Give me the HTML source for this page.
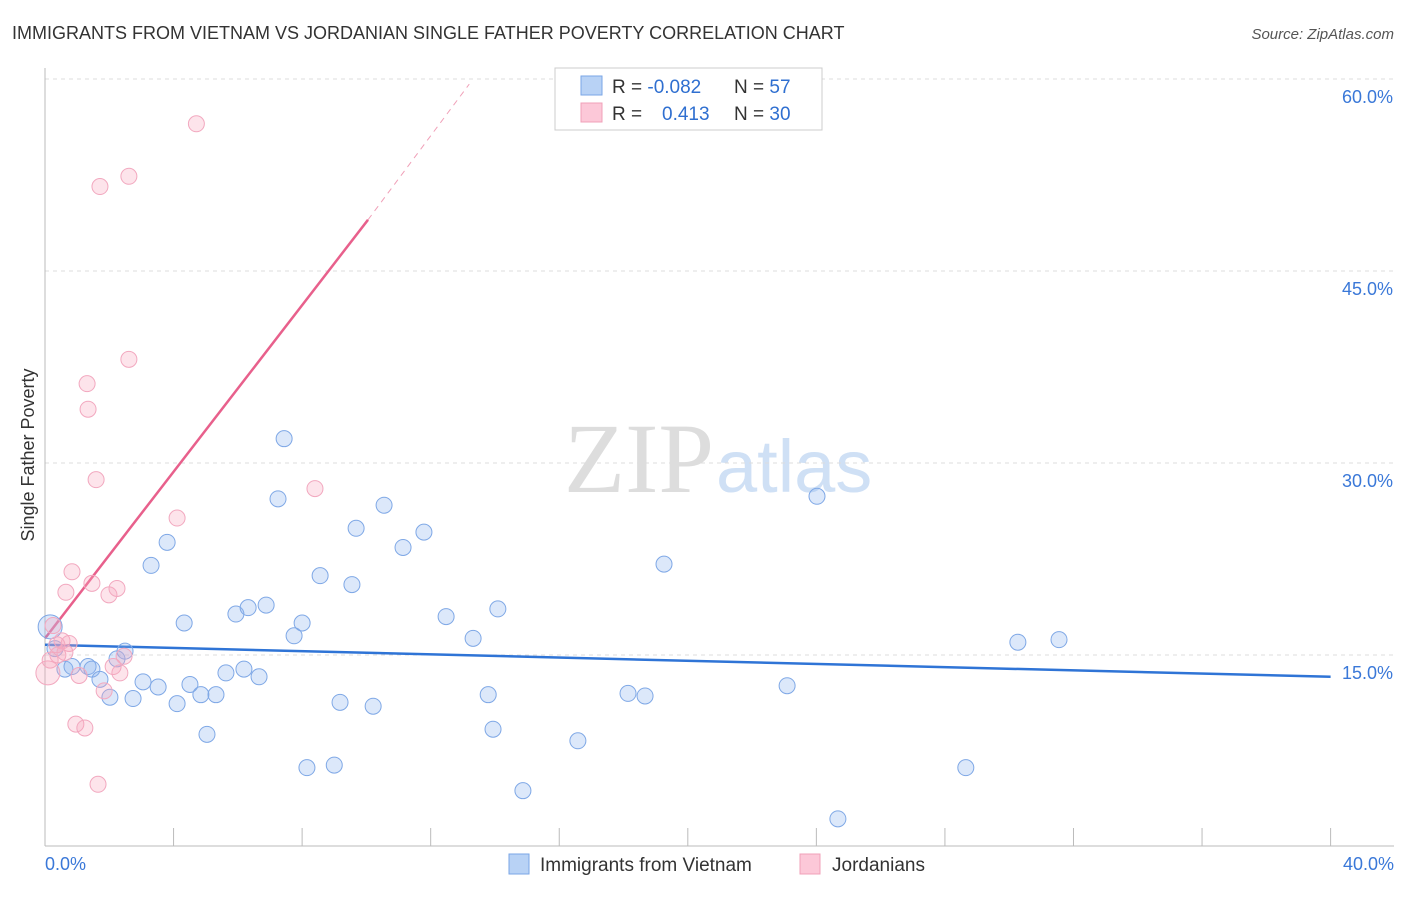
<!DOCTYPE html>
<html><head><meta charset="utf-8"><style>
body{margin:0;background:#fff;font-family:"Liberation Sans",sans-serif}
svg text{font-family:"Liberation Sans",sans-serif}
</style></head><body>
<svg id="c" width="1406" height="892">
<text x="12" y="39" font-size="18" fill="#333">IMMIGRANTS FROM VIETNAM VS JORDANIAN SINGLE FATHER POVERTY CORRELATION CHART</text>
<text x="1394" y="39" font-size="15" fill="#555" font-style="italic" text-anchor="end">Source: ZipAtlas.com</text>
<text x="714" y="492" font-size="100" fill="#ddd" style="font-family:'Liberation Serif',serif" text-anchor="end">ZIP</text>
<text x="716" y="492" font-size="74" fill="#cfe0f5">atlas</text>
<g id="grid"></g><g id="axes"></g><g id="trends"></g><g id="pts"></g>
<text transform="translate(34,455) rotate(-90)" font-size="18" fill="#333" text-anchor="middle">Single Father Poverty</text>
<g>
<rect x="555" y="68" width="267" height="62" fill="#fff" stroke="#ccc"/>
<rect x="581" y="76" width="21" height="19" fill="#b8d2f5" stroke="#7aa6e6"/>
<rect x="581" y="103" width="21" height="19" fill="#fcc8d8" stroke="#f0a0b8"/>
<text x="612" y="93" font-size="19" fill="#333">R = <tspan fill="#2f6fd0">-0.082</tspan></text>
<text x="734" y="93" font-size="19" fill="#333">N = <tspan fill="#2f6fd0">57</tspan></text>
<text x="612" y="120" font-size="19" fill="#333">R = </text>
<text x="662" y="120" font-size="19" fill="#2f6fd0">0.413</text>
<text x="734" y="120" font-size="19" fill="#333">N = <tspan fill="#2f6fd0">30</tspan></text>
</g>
<g>
<rect x="509" y="854" width="20" height="20" fill="#b8d2f5" stroke="#7aa6e6"/>
<text x="540" y="871" font-size="19" fill="#333">Immigrants from Vietnam</text>
<rect x="800" y="854" width="20" height="20" fill="#fcc8d8" stroke="#f0a0b8"/>
<text x="832" y="871" font-size="19" fill="#333">Jordanians</text>
</g>
</svg>
<script>
const yTicks=[15,30,45,60];
const xTickLabels=["0.0%","40.0%"];
const blueX=[0.16,0.31,0.62,0.84,1.34,1.46,1.71,2.02,2.24,2.49,2.74,3.05,3.30,3.52,3.80,4.11,4.33,4.51,4.85,5.04,5.32,5.63,5.94,6.19,6.32,6.66,6.88,7.25,7.44,7.75,8.0,8.15,8.56,9.0,9.18,9.55,9.68,10.21,10.55,11.14,11.79,12.48,13.32,13.79,13.94,14.09,14.87,16.58,18.14,18.67,19.26,23.09,24.02,24.67,28.65,30.27,31.55];
const blueY=[17.2,15.5,13.9,14.1,14.1,13.9,13.1,11.7,14.7,15.3,11.6,12.9,22.0,12.5,23.8,11.2,17.5,12.7,11.9,8.8,11.9,13.6,18.2,13.9,18.7,13.3,18.9,27.2,31.9,16.5,17.5,6.2,21.2,6.4,11.3,20.5,24.9,11.0,26.7,23.4,24.6,18.0,16.3,11.9,9.2,18.6,4.4,8.3,12.0,11.8,22.1,12.6,27.4,2.2,6.2,16.0,16.2];
const pinkX=[0.09,0.25,0.40,0.53,0.65,0.75,0.84,1.06,1.31,1.34,1.46,1.59,1.65,1.71,1.84,1.99,2.12,2.24,2.33,2.46,2.61,2.61,4.11,4.71,8.4,0.96,1.24,0.37,0.16,0.62];
const pinkY=[13.6,17.3,15.0,16.1,19.9,15.9,21.5,13.4,36.2,34.2,20.6,28.7,4.9,51.6,12.2,19.7,14.1,20.2,13.6,14.9,38.1,52.4,25.7,56.5,28.0,9.6,9.3,15.8,14.6,15.2];
const blueTrend=[[0,15.8],[40,13.3]];
const pinkTrendSolid=[[0,16.3],[10.05,49.0]];
const pinkTrendDash=[[10.05,49.0],[13.2,59.6]];
const X=v=>45+v*32.14, Y=v=>847-v*12.8;
const NS="http://www.w3.org/2000/svg";
function mk(p,t,a){const e=document.createElementNS(NS,t);for(const k in a)e.setAttribute(k,a[k]);document.getElementById(p).appendChild(e);return e;}
yTicks.forEach(t=>{
 const l=mk('grid','line',{x1:45,x2:1394,y1:Y(t),y2:Y(t),stroke:'#ddd','stroke-dasharray':'4,4'});
 
 
 const tx=mk('grid','text',{x:1393,y:Y(t)+24,'font-size':18,fill:'#3a78d8','text-anchor':'end'});tx.textContent=t.toFixed(1)+'%';
 
 
});
mk('axes','line',{x1:45,x2:45,y1:68,y2:846,stroke:'#bbb'});
mk('axes','line',{x1:45,x2:1394,y1:846,y2:846,stroke:'#bbb'});
for(let i=1;i<=10;i++){const t=mk('axes','line',{x1:X(i*4),x2:X(i*4),y1:828,y2:846,stroke:'#bbb'});
 
 }
[[0,'start',45],[1,'end',1394]].forEach(([i,a,x])=>{const t=mk('axes','text',{x:x,y:870,'font-size':18,fill:'#3a78d8','text-anchor':a});t.textContent=xTickLabels[i];
 
 });
const bt=mk('trends','line',{x1:X(blueTrend[0][0]),y1:Y(blueTrend[0][1]),x2:X(blueTrend[1][0]),y2:Y(blueTrend[1][1]),stroke:'#2f74d6','stroke-width':2.5});


const pt=mk('trends','line',{x1:X(pinkTrendSolid[0][0]),y1:Y(pinkTrendSolid[0][1]),x2:X(pinkTrendSolid[1][0]),y2:Y(pinkTrendSolid[1][1]),stroke:'#e8608c','stroke-width':2.5});


const pd=mk('trends','line',{x1:X(pinkTrendDash[0][0]),y1:Y(pinkTrendDash[0][1]),x2:X(pinkTrendDash[1][0]),y2:Y(pinkTrendDash[1][1]),stroke:'#f0a0b8','stroke-width':1,'stroke-dasharray':'6,5'});


blueX.forEach((x,i)=>{const c=mk('pts','circle',{cx:X(x),cy:Y(blueY[i]),r:i==0?12:8,fill:'rgba(140,180,240,0.3)',stroke:'#7fa8e6','stroke-width':1});
 
 });
pinkX.forEach((x,i)=>{const c=mk('pts','circle',{cx:X(x),cy:Y(pinkY[i]),r:i==0?12:8,fill:'rgba(248,165,190,0.3)',stroke:'#f2a8bf','stroke-width':1});
 
 });
</script>
</body></html>
